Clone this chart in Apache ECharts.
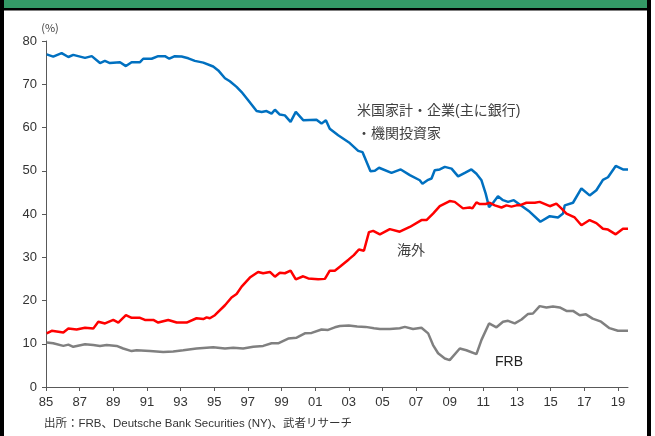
<!DOCTYPE html>
<html>
<head>
<meta charset="utf-8">
<script src="https://cdn.jsdelivr.net/npm/echarts@6/dist/echarts.min.js"></script>
<style>
  html, body { margin: 0; padding: 0; background: #fff; }
  #chart { width: 655px; height: 436px; }
</style>
</head>
<body>
<div id="chart"></div>
<script>
// x values are decimal years
const yearTicks = [1985, 1987, 1989, 1991, 1993, 1995, 1997, 1999, 2001, 2003, 2005, 2007, 2009, 2011, 2013, 2015, 2017, 2019];

const domesticYears = [1985.04, 1985.43, 1985.93, 1986.33, 1986.62, 1987.32, 1987.72, 1988.21, 1988.5, 1988.8,
  1989.4, 1989.75, 1990.09, 1990.59, 1990.78, 1991.28, 1991.67, 1992.07, 1992.33, 1992.66,
  1993.06, 1993.46, 1993.85, 1994.35, 1994.94, 1995.24, 1995.64, 1995.93, 1996.33, 1996.63,
  1997.02, 1997.52, 1997.82, 1998.11, 1998.41, 1998.61, 1998.9, 1999.2, 1999.54, 1999.85,
  2000.29, 2001.08, 2001.38, 2001.64, 2001.87, 2002.37, 2003.06, 2003.56, 2003.82, 2004.29,
  2004.55, 2004.8, 2005.54, 2006.09, 2006.63, 2007.22, 2007.38, 2007.72, 2007.92, 2008.11,
  2008.41, 2008.71, 2009.11, 2009.5, 2009.6, 2009.9, 2010.29, 2010.59, 2010.89, 2011.14,
  2011.34, 2011.58, 2011.87, 2012.17, 2012.47, 2012.81, 2013.16, 2013.76, 2014.39, 2014.95,
  2015.44, 2015.74, 2015.84, 2016.33, 2016.83, 2017.32, 2017.72, 2018.11, 2018.41, 2018.87,
  2019.3, 2019.6];
const domesticValues = [76.9, 76.4, 77.2, 76.3, 76.8, 76.1, 76.5, 74.9, 75.4, 74.9,
  75.1, 74.2, 75.1, 75.1, 75.9, 75.9, 76.5, 76.5, 75.9, 76.5,
  76.4, 76.0, 75.4, 75.0, 74.1, 73.2, 71.4, 70.7, 69.4, 68.2,
  66.3, 63.8, 63.6, 63.8, 63.2, 64.1, 63.0, 62.8, 61.3, 63.6,
  61.7, 61.8, 60.9, 61.7, 59.7, 58.2, 56.4, 54.6, 54.3, 49.9,
  50.0, 50.7, 49.5, 50.3, 49.0, 47.8, 47.0, 47.9, 48.2, 50.1,
  50.3, 50.9, 50.5, 48.7, 48.4, 49.5, 50.3, 49.3, 47.8, 44.7,
  41.6, 42.6, 44.1, 43.2, 42.8, 43.2, 42.2, 40.5, 38.2, 39.5,
  39.2, 40.1, 42.0, 42.6, 45.9, 44.3, 45.5, 47.9, 48.5, 51.1,
  50.3, 50.3];

const foreignYears = [1985.04, 1985.34, 1986.03, 1986.33, 1986.82, 1987.32, 1987.81, 1988.11, 1988.51, 1989.0,
  1989.3, 1989.75, 1990.09, 1990.59, 1990.88, 1991.38, 1991.67, 1992.27, 1992.77, 1993.36,
  1993.95, 1994.35, 1994.55, 1994.74, 1995.04, 1995.64, 1996.03, 1996.33, 1996.63, 1997.12,
  1997.61, 1997.91, 1998.31, 1998.61, 1998.9, 1999.2, 1999.54, 1999.85, 2000.29, 2000.59,
  2001.18, 2001.58, 2001.87, 2002.17, 2002.47, 2003.0, 2003.3, 2003.6, 2003.9, 2004.2,
  2004.45, 2004.85, 2005.44, 2006.03, 2006.63, 2007.32, 2007.62, 2008.01, 2008.41, 2009.0,
  2009.3, 2009.79, 2010.19, 2010.35, 2010.59, 2010.79, 2011.14, 2011.38, 2011.68, 2012.08,
  2012.37, 2012.67, 2012.97, 2013.16, 2013.56, 2014.06, 2014.35, 2014.95, 2015.34, 2015.64,
  2015.94, 2016.43, 2016.83, 2017.32, 2017.72, 2018.11, 2018.41, 2018.87, 2019.3, 2019.6];
const foreignValues = [12.4, 13.0, 12.6, 13.5, 13.3, 13.7, 13.5, 15.1, 14.7, 15.5,
  14.9, 16.6, 16.0, 16.0, 15.5, 15.5, 14.9, 15.5, 14.9, 14.9,
  15.9, 15.7, 16.1, 15.9, 16.6, 18.9, 20.7, 21.5, 23.2, 25.3,
  26.6, 26.3, 26.6, 25.5, 26.4, 26.3, 26.9, 24.9, 25.6, 25.1,
  24.9, 25.0, 26.9, 26.9, 27.8, 29.5, 30.5, 31.8, 31.5, 35.8,
  36.1, 35.3, 36.5, 35.9, 37.0, 38.6, 38.6, 40.1, 41.8, 43.0,
  42.8, 41.3, 41.5, 41.3, 42.7, 42.3, 42.3, 42.6, 42.0, 41.5,
  42.0, 41.7, 42.0, 42.0, 42.6, 42.6, 42.8, 41.8, 42.4, 41.3,
  40.1, 39.2, 37.4, 38.6, 37.9, 36.6, 36.4, 35.3, 36.6, 36.6];

const frbYears = [1985.04, 1985.43, 1986.03, 1986.33, 1986.62, 1987.32, 1987.81, 1988.21, 1988.61, 1989.2,
  1989.59, 1990.09, 1990.39, 1991.18, 1991.97, 1992.56, 1993.16, 1993.95, 1994.94, 1995.64,
  1996.13, 1996.72, 1997.32, 1997.91, 1998.41, 1998.8, 1999.4, 1999.9, 2000.39, 2000.79,
  2001.38, 2001.77, 2002.17, 2002.47, 2003.0, 2003.5, 2004.0, 2004.5, 2004.85, 2005.44,
  2006.03, 2006.33, 2006.82, 2007.32, 2007.72, 2008.01, 2008.31, 2008.71, 2009.0, 2009.6,
  2009.99, 2010.59, 2010.89, 2011.34, 2011.78, 2012.17, 2012.47, 2012.87, 2013.27, 2013.66,
  2013.95, 2014.35, 2014.75, 2015.14, 2015.54, 2015.94, 2016.33, 2016.73, 2017.1, 2017.5,
  2018.0, 2018.5, 2019.0, 2019.6];
const frbValues = [10.3, 10.1, 9.5, 9.8, 9.3, 9.9, 9.7, 9.5, 9.7, 9.5,
  8.9, 8.3, 8.5, 8.3, 8.1, 8.2, 8.5, 8.9, 9.2, 8.9,
  9.1, 8.9, 9.3, 9.5, 10.1, 10.1, 11.2, 11.4, 12.4, 12.5,
  13.3, 13.2, 13.8, 14.1, 14.2, 14.0, 13.9, 13.6, 13.4, 13.4,
  13.6, 13.9, 13.4, 13.7, 12.4, 9.7, 7.8, 6.6, 6.2, 8.9,
  8.5, 7.6, 10.9, 14.7, 13.8, 15.1, 15.3, 14.7, 15.6, 16.9,
  17.0, 18.7, 18.4, 18.6, 18.4, 17.6, 17.6, 16.6, 16.8, 15.8,
  15.1, 13.6, 13.0, 13.0];

const zip = (xs, ys) => xs.map((x, i) => [x, ys[i]]);

const chart = echarts.init(document.getElementById('chart'));
const axisColor = '#595959';
const labelFont = '"Liberation Sans", Arial, sans-serif';
const jpFont = '"Noto Sans CJK JP", sans-serif';
const mixedFont = '"Liberation Sans", "Noto Sans CJK JP", sans-serif';

const option = {
  animation: false,
  backgroundColor: '#fff',
  grid: { left: 46, right: 27, top: 41, bottom: 49 },
  xAxis: {
    type: 'value',
    min: 1985,
    max: 2019.6,
    splitLine: { show: false },
    axisLine: { lineStyle: { color: axisColor, width: 1 } },
    axisTick: { customValues: yearTicks, length: 4, lineStyle: { color: axisColor } },
    axisLabel: {
      customValues: yearTicks,
      margin: 9,
      color: '#333',
      fontSize: 13,
      fontFamily: labelFont,
      formatter: (v) => String(Math.round(v) % 100).padStart(2, '0'),
    },
  },
  yAxis: {
    type: 'value',
    min: 0,
    max: 80,
    interval: 10,
    splitLine: { show: false },
    axisLine: { show: true, lineStyle: { color: axisColor, width: 1 } },
    axisTick: { show: true, length: 4, lineStyle: { color: axisColor } },
    axisLabel: { margin: 9, color: '#333', fontSize: 13, fontFamily: labelFont },
  },
  series: [
    {
      name: '米国家計・企業(主に銀行)・機関投資家',
      type: 'line',
      data: zip(domesticYears, domesticValues),
      showSymbol: false,
      lineStyle: { color: '#0070C0', width: 2.5 },
      z: 3,
    },
    {
      name: '海外',
      type: 'line',
      data: zip(foreignYears, foreignValues),
      showSymbol: false,
      lineStyle: { color: '#FF0000', width: 2.5 },
      z: 4,
    },
    {
      name: 'FRB',
      type: 'line',
      data: zip(frbYears, frbValues),
      showSymbol: false,
      lineStyle: { color: '#808080', width: 2.5 },
      z: 2,
    },
  ],
  graphic: [
    // green header strip and black frame
    { type: 'rect', shape: { x: 0, y: 0, width: 651, height: 9 }, style: { fill: '#349966' }, z: 10 },
    { type: 'rect', shape: { x: 0, y: 8, width: 651, height: 2.5 }, style: { fill: '#000' }, z: 11 },
    { type: 'rect', shape: { x: 0, y: 0, width: 4, height: 436 }, style: { fill: '#000' }, z: 11 },
    { type: 'rect', shape: { x: 647, y: 0, width: 4, height: 436 }, style: { fill: '#000' }, z: 11 },
    // unit
    { type: 'text', x: 50, y: 28, style: { text: '(%)', fill: '#404040', font: '11px ' + jpFont, align: 'center', verticalAlign: 'middle' } },
    // series annotations
    { type: 'text', x: 357, y: 111, style: { text: '米国家計・企業(主に銀行)', fill: '#404040', font: '14px ' + mixedFont, verticalAlign: 'middle' } },
    { type: 'text', x: 357, y: 133, style: { text: '・機関投資家', fill: '#404040', font: '14px ' + jpFont, verticalAlign: 'middle' } },
    { type: 'text', x: 397, y: 250, style: { text: '海外', fill: '#404040', font: '14px ' + jpFont, verticalAlign: 'middle' } },
    { type: 'text', x: 495, y: 362, style: { text: 'FRB', fill: '#222', font: '14px ' + labelFont, verticalAlign: 'middle' } },
    // source
    { type: 'text', x: 44, y: 424, style: { text: '出所：FRB、Deutsche Bank Securities (NY)、武者リサーチ', fill: '#333', font: '11.5px ' + mixedFont, verticalAlign: 'middle' } },
  ],
};

chart.setOption(option);
</script>
</body>
</html>
